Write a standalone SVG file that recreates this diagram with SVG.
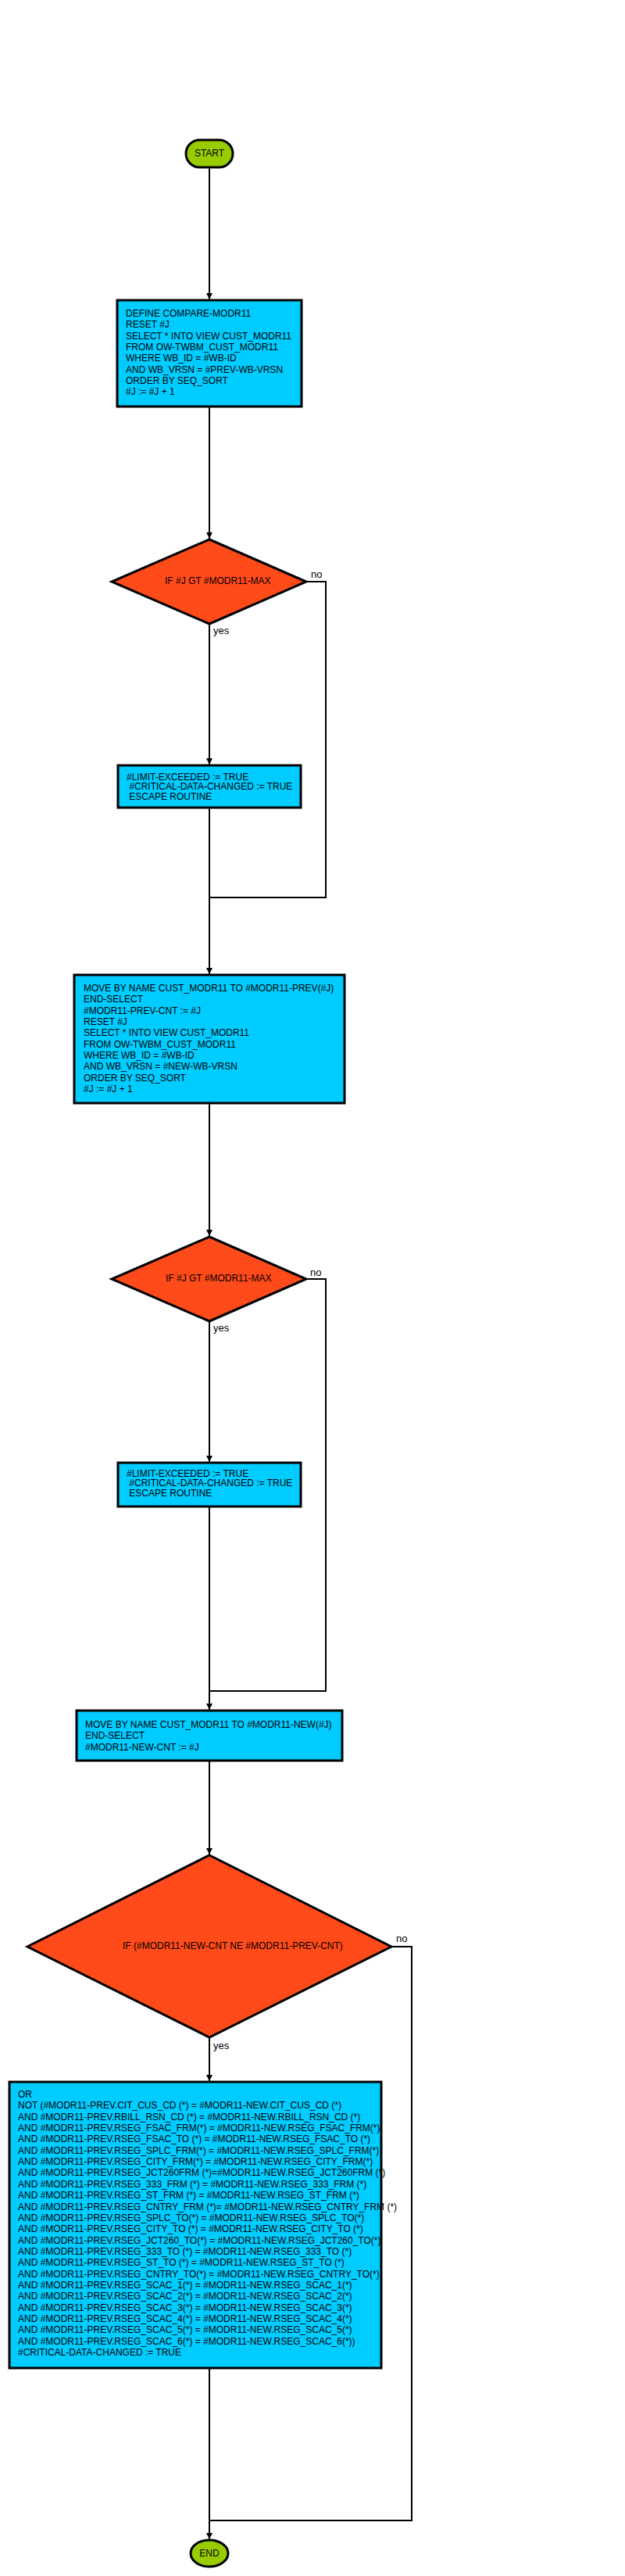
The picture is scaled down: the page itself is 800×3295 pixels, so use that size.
<svg xmlns="http://www.w3.org/2000/svg" width="800" height="3295" viewBox="0 0 800 3295">
<style>
.bg{fill:#ffffff}
.term{fill:#99CC00;stroke:#000;stroke-width:3}
.proc{fill:#00CCFF;stroke:#000;stroke-width:3}
.dec{fill:#FF4A1A;stroke:#000;stroke-width:3}
.t{font-family:"Liberation Sans",Arial,sans-serif;font-size:12px;fill:#000}
.lbl{font-family:"Liberation Sans",Arial,sans-serif;font-size:13px;fill:#000}
.c{fill:none;stroke:#000;stroke-width:2}
</style>
<defs>
<marker id="arr" markerUnits="userSpaceOnUse" markerWidth="9" markerHeight="9" refX="8" refY="4" orient="auto">
<path d="M0,0 L8,4 L0,8 z" fill="#000"/>
</marker>
</defs>
<rect class="bg" x="0" y="0" width="800" height="3295"/>
<g id="connectors">
<line class="c" x1="268" y1="214" x2="268" y2="383" marker-end="url(#arr)"/>
<line class="c" x1="268" y1="520" x2="268" y2="689" marker-end="url(#arr)"/>
<line class="c" x1="268" y1="798" x2="268" y2="978" marker-end="url(#arr)"/>
<polyline class="c" points="392,744 417,744 417,1148 268,1148"/>
<line class="c" x1="268" y1="1033" x2="268" y2="1246" marker-end="url(#arr)"/>
<line class="c" x1="268" y1="1411" x2="268" y2="1581" marker-end="url(#arr)"/>
<line class="c" x1="268" y1="1690" x2="268" y2="1870" marker-end="url(#arr)"/>
<polyline class="c" points="392,1636 417,1636 417,2163 268,2163"/>
<line class="c" x1="268" y1="1927" x2="268" y2="2187" marker-end="url(#arr)"/>
<line class="c" x1="268" y1="2252" x2="268" y2="2372" marker-end="url(#arr)"/>
<line class="c" x1="268" y1="2606" x2="268" y2="2662" marker-end="url(#arr)"/>
<polyline class="c" points="501,2490 527,2490 527,3224 268,3224"/>
<line class="c" x1="268" y1="3029" x2="268" y2="3248" marker-end="url(#arr)"/>
<text class="lbl" x="398" y="739">no</text>
<text class="lbl" x="273" y="811">yes</text>
<text class="lbl" x="397" y="1632">no</text>
<text class="lbl" x="273" y="1703">yes</text>
<text class="lbl" x="507" y="2484">no</text>
<text class="lbl" x="273" y="2621">yes</text>
</g>
<g id="start">
<rect class="term" x="238" y="179" width="60" height="35" rx="17.5" ry="17.5"/>
<text class="t" x="268" y="200" text-anchor="middle">START</text>
</g>
<g id="define">
<rect class="proc" x="150" y="384" width="236" height="136"/>
<text class="t" x="161" y="405">DEFINE COMPARE-MODR11</text>
<text class="t" x="161" y="419.35">RESET #J</text>
<text class="t" x="161" y="433.7">SELECT * INTO VIEW CUST_MODR11</text>
<text class="t" x="161" y="448.05">FROM OW-TWBM_CUST_MODR11</text>
<text class="t" x="161" y="462.4">WHERE WB_ID = #WB-ID</text>
<text class="t" x="161" y="476.75">AND WB_VRSN = #PREV-WB-VRSN</text>
<text class="t" x="161" y="491.1">ORDER BY SEQ_SORT</text>
<text class="t" x="161" y="505.45">#J := #J + 1</text>
</g>
<g id="if1">
<polygon class="dec" points="268,690 392,744 268,798 143,744"/>
<text class="t" x="211" y="747">IF #J GT #MODR11-MAX</text>
</g>
<g id="limit1">
<rect class="proc" x="151" y="979" width="234" height="54"/>
<text class="t" x="162" y="998" xml:space="preserve">#LIMIT-EXCEEDED := TRUE</text>
<text class="t" x="162" y="1010.3" xml:space="preserve"> #CRITICAL-DATA-CHANGED := TRUE</text>
<text class="t" x="162" y="1022.6" xml:space="preserve"> ESCAPE ROUTINE</text>
</g>
<g id="moveprev">
<rect class="proc" x="95" y="1247" width="346" height="164"/>
<text class="t" x="107" y="1268">MOVE BY NAME CUST_MODR11 TO #MODR11-PREV(#J)</text>
<text class="t" x="107" y="1282.35">END-SELECT</text>
<text class="t" x="107" y="1296.7">#MODR11-PREV-CNT := #J</text>
<text class="t" x="107" y="1311.05">RESET #J</text>
<text class="t" x="107" y="1325.4">SELECT * INTO VIEW CUST_MODR11</text>
<text class="t" x="107" y="1339.75">FROM OW-TWBM_CUST_MODR11</text>
<text class="t" x="107" y="1354.1">WHERE WB_ID = #WB-ID</text>
<text class="t" x="107" y="1368.45">AND WB_VRSN = #NEW-WB-VRSN</text>
<text class="t" x="107" y="1382.8">ORDER BY SEQ_SORT</text>
<text class="t" x="107" y="1397.15">#J := #J + 1</text>
</g>
<g id="if2">
<polygon class="dec" points="268,1582 392,1636 268,1690 143,1636"/>
<text class="t" x="212" y="1639">IF #J GT #MODR11-MAX</text>
</g>
<g id="limit2">
<rect class="proc" x="151" y="1871" width="234" height="56"/>
<text class="t" x="162" y="1889" xml:space="preserve">#LIMIT-EXCEEDED := TRUE</text>
<text class="t" x="162" y="1901.3" xml:space="preserve"> #CRITICAL-DATA-CHANGED := TRUE</text>
<text class="t" x="162" y="1913.6" xml:space="preserve"> ESCAPE ROUTINE</text>
</g>
<g id="movenew">
<rect class="proc" x="98" y="2188" width="340" height="64"/>
<text class="t" x="109" y="2210">MOVE BY NAME CUST_MODR11 TO #MODR11-NEW(#J)</text>
<text class="t" x="109" y="2224.35">END-SELECT</text>
<text class="t" x="109" y="2238.7">#MODR11-NEW-CNT := #J</text>
</g>
<g id="if3">
<polygon class="dec" points="268,2373 501,2490 268,2606 35,2490"/>
<text class="t" x="157" y="2493">IF (#MODR11-NEW-CNT NE #MODR11-PREV-CNT)</text>
</g>
<g id="compare">
<rect class="proc" x="12" y="2663" width="476" height="366"/>
<g class="t" xml:space="preserve">
<text x="23" y="2683">OR</text>
<text x="23" y="2697.35"> NOT (#MODR11-PREV.CIT_CUS_CD (*) = #MODR11-NEW.CIT_CUS_CD (*)</text>
<text x="23" y="2711.7"> AND #MODR11-PREV.RBILL_RSN_CD (*) = #MODR11-NEW.RBILL_RSN_CD (*)</text>
<text x="23" y="2726.05"> AND #MODR11-PREV.RSEG_FSAC_FRM(*) = #MODR11-NEW.RSEG_FSAC_FRM(*)</text>
<text x="23" y="2740.4"> AND #MODR11-PREV.RSEG_FSAC_TO (*) = #MODR11-NEW.RSEG_FSAC_TO (*)</text>
<text x="23" y="2754.75"> AND #MODR11-PREV.RSEG_SPLC_FRM(*) = #MODR11-NEW.RSEG_SPLC_FRM(*)</text>
<text x="23" y="2769.1"> AND #MODR11-PREV.RSEG_CITY_FRM(*) = #MODR11-NEW.RSEG_CITY_FRM(*)</text>
<text x="23" y="2783.45"> AND #MODR11-PREV.RSEG_JCT260FRM (*)=#MODR11-NEW.RSEG_JCT260FRM (*)</text>
<text x="23" y="2797.8"> AND #MODR11-PREV.RSEG_333_FRM (*) = #MODR11-NEW.RSEG_333_FRM (*)</text>
<text x="23" y="2812.15"> AND #MODR11-PREV.RSEG_ST_FRM (*) = #MODR11-NEW.RSEG_ST_FRM (*)</text>
<text x="23" y="2826.5"> AND #MODR11-PREV.RSEG_CNTRY_FRM (*)= #MODR11-NEW.RSEG_CNTRY_FRM (*)</text>
<text x="23" y="2840.85"> AND #MODR11-PREV.RSEG_SPLC_TO(*) = #MODR11-NEW.RSEG_SPLC_TO(*)</text>
<text x="23" y="2855.2"> AND #MODR11-PREV.RSEG_CITY_TO (*) = #MODR11-NEW.RSEG_CITY_TO (*)</text>
<text x="23" y="2869.55"> AND #MODR11-PREV.RSEG_JCT260_TO(*) = #MODR11-NEW.RSEG_JCT260_TO(*)</text>
<text x="23" y="2883.9"> AND #MODR11-PREV.RSEG_333_TO (*) = #MODR11-NEW.RSEG_333_TO (*)</text>
<text x="23" y="2898.25"> AND #MODR11-PREV.RSEG_ST_TO (*) = #MODR11-NEW.RSEG_ST_TO (*)</text>
<text x="23" y="2912.6"> AND #MODR11-PREV.RSEG_CNTRY_TO(*) = #MODR11-NEW.RSEG_CNTRY_TO(*)</text>
<text x="23" y="2926.95"> AND #MODR11-PREV.RSEG_SCAC_1(*) = #MODR11-NEW.RSEG_SCAC_1(*)</text>
<text x="23" y="2941.3"> AND #MODR11-PREV.RSEG_SCAC_2(*) = #MODR11-NEW.RSEG_SCAC_2(*)</text>
<text x="23" y="2955.65"> AND #MODR11-PREV.RSEG_SCAC_3(*) = #MODR11-NEW.RSEG_SCAC_3(*)</text>
<text x="23" y="2970"> AND #MODR11-PREV.RSEG_SCAC_4(*) = #MODR11-NEW.RSEG_SCAC_4(*)</text>
<text x="23" y="2984.35"> AND #MODR11-PREV.RSEG_SCAC_5(*) = #MODR11-NEW.RSEG_SCAC_5(*)</text>
<text x="23" y="2998.7"> AND #MODR11-PREV.RSEG_SCAC_6(*) = #MODR11-NEW.RSEG_SCAC_6(*))</text>
<text x="23" y="3013.05"> #CRITICAL-DATA-CHANGED := TRUE</text>
</g>
</g>
<g id="end">
<ellipse class="term" cx="268" cy="3266" rx="24" ry="17"/>
<text class="t" x="268" y="3270" text-anchor="middle">END</text>
</g>
</svg>
